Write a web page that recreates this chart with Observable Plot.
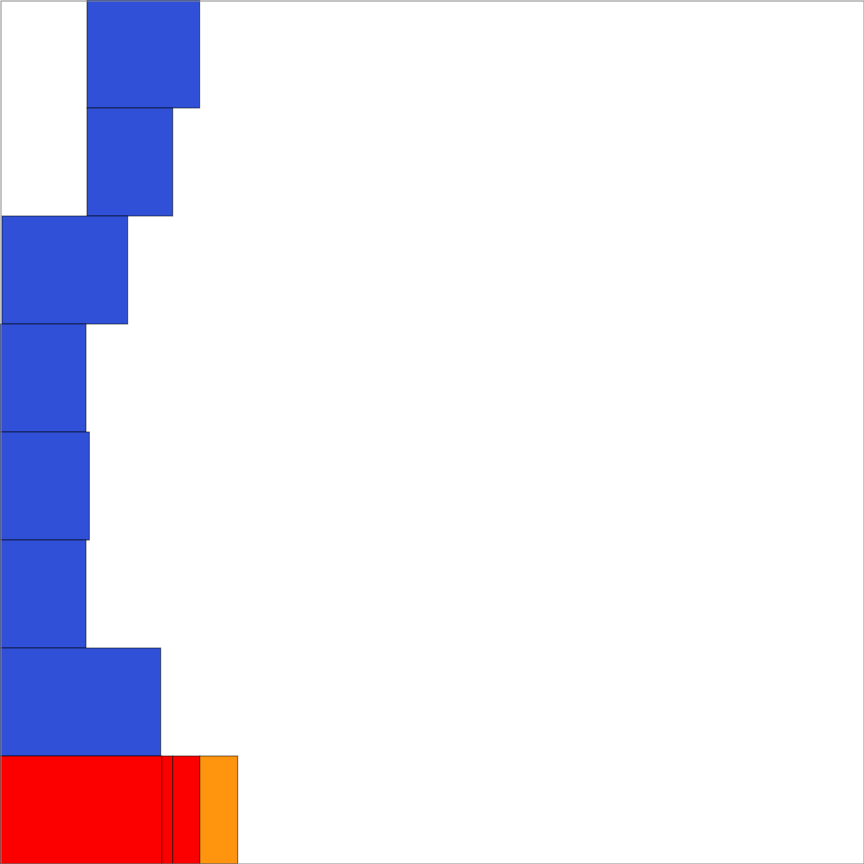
<!DOCTYPE html>
<html>
<head>
<meta charset="utf-8">
<script src="https://cdn.jsdelivr.net/npm/d3@7"></script>
<script src="https://cdn.jsdelivr.net/npm/@observablehq/plot@0.6"></script>
<style>
  html, body { margin: 0; padding: 0; background: #fff; }
</style>
</head>
<body>
<div id="chart"></div>
<script>
// Row labels (top to bottom)
const rows = ["R1", "R2", "R3", "R4", "R5", "R6", "R7", "R8"];
// Segments: row, start, end, group
const segRow   = ["R1", "R2", "R3", "R4", "R5", "R6", "R7", "R8", "R8", "R8", "R8"];
const segStart = [10.07, 10.07, 0.23, 0, 0, 0, 0, 0, 18.72, 19.99, 23.13];
const segEnd   = [23.11, 19.99, 14.78, 9.95, 10.34, 9.95, 18.6, 18.72, 19.99, 23.13, 27.51];
const segGroup = ["G1", "G1", "G1", "G1", "G1", "G1", "G1", "G2", "G2", "G2", "G3"];
const groups = ["G1", "G2", "G3"];
const groupColors = ["#3050d8", "#fc0000", "#ff950e"];

const data = segRow.map((r, i) => ({row: r, x1: segStart[i], x2: segEnd[i], group: segGroup[i]}));

const chart = Plot.plot({
  width: 864,
  height: 864,
  margin: 0,
  x: {domain: [0, 100], axis: null},
  y: {domain: rows, axis: null, padding: 0},
  color: {type: "ordinal", domain: groups, range: groupColors},
  marks: [
    Plot.barX(data, {
      x1: "x1", x2: "x2", y: "row", fill: "group",
      stroke: "#000", strokeOpacity: 0.55, strokeWidth: 1
    }),
    Plot.frame({stroke: "#8a8a8a", strokeWidth: 1, inset: 0.5})
  ]
});
document.getElementById("chart").appendChild(chart);
</script>
</body>
</html>
